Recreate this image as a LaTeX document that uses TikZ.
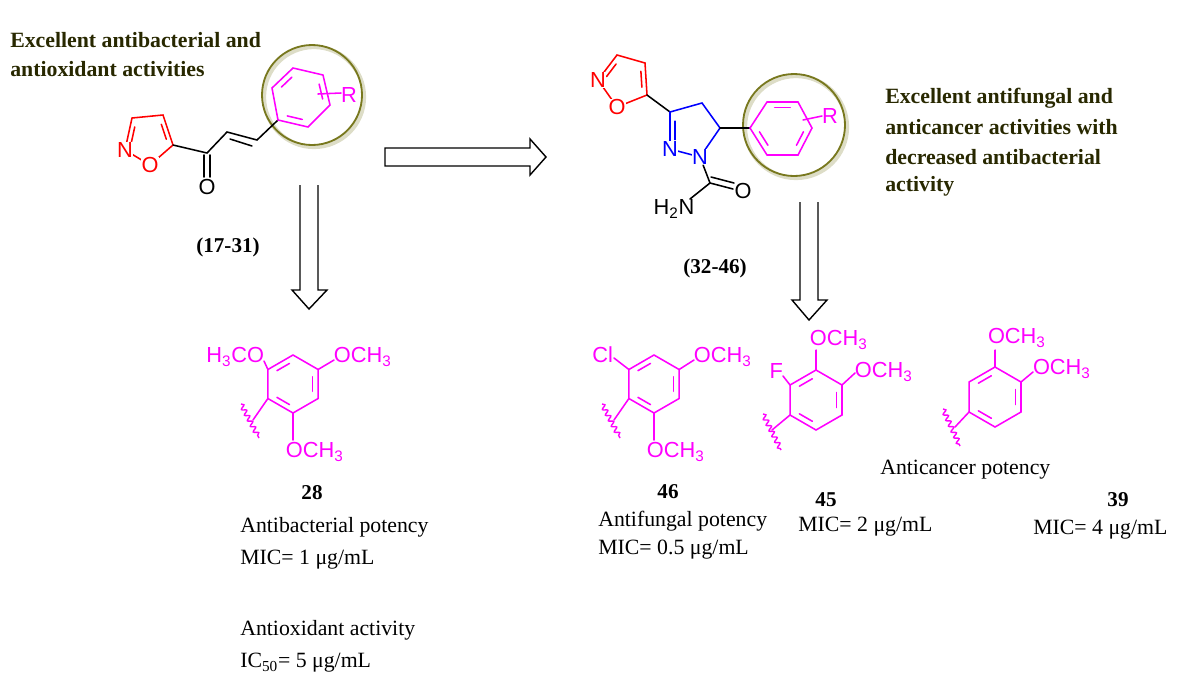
\documentclass[tikz,border=0pt]{standalone}
\usepackage{fontspec}
\setmainfont{Liberation Serif}
\newfontfamily\chemf{Liberation Sans}
\usetikzlibrary{calc,decorations.pathmorphing}
\definecolor{mag}{RGB}{255,0,255}
\definecolor{txt}{RGB}{40,40,0}
\definecolor{olv}{RGB}{120,120,30}
\begin{document}
\begin{tikzpicture}[x=0.025cm,y=-0.025cm,
  bond/.style={line width=1.1pt,line cap=round},
  lab/.style={font=\chemf\fontsize{15.5}{15}\selectfont,inner sep=0.5pt},
  atom/.style={lab,fill=white,inner sep=0.3pt},
  ttl/.style={font=\bfseries\fontsize{15.5}{16}\selectfont,text=txt,inner sep=0,anchor=west},
  bd/.style={font=\fontsize{15.5}{16}\selectfont,text=black,inner sep=0,anchor=west},
  num/.style={font=\bfseries\fontsize{15}{15}\selectfont,text=black,inner sep=0},
  hollow/.style={line width=1pt,black},
  wav/.style={line width=1pt,decorate,decoration={snake,segment length=4.5pt,amplitude=1.6pt}},
  ring/.style={line width=1.3pt,olv}]
\useasboundingbox (0,0) rectangle (1200,679);
\newcommand\hexP[4]{%
  \coordinate (#1c) at (#2,#3);
  \coordinate (#11) at (#2,#3-#4);
  \coordinate (#12) at (#2+0.866*#4,#3-0.5*#4);
  \coordinate (#13) at (#2+0.866*#4,#3+0.5*#4);
  \coordinate (#14) at (#2,#3+#4);
  \coordinate (#15) at (#2-0.866*#4,#3+0.5*#4);
  \coordinate (#16) at (#2-0.866*#4,#3-0.5*#4);
  \draw[bond,mag] (#11)--(#12)--(#13)--(#14)--(#15)--(#16)--cycle;
  \draw[bond,mag] ($(#1c)!0.78!($(#16)!0.18!(#11)$)$)--($(#1c)!0.78!($(#16)!0.82!(#11)$)$);
  \draw[bond,mag] ($(#1c)!0.78!($(#12)!0.18!(#13)$)$)--($(#1c)!0.78!($(#12)!0.82!(#13)$)$);
  \draw[bond,mag] ($(#1c)!0.78!($(#14)!0.18!(#15)$)$)--($(#1c)!0.78!($(#14)!0.82!(#15)$)$);}
\newcommand\inner[4]{\draw[bond,#4] ($(#1)!0.78!($(#2)!0.18!(#3)$)$)--($(#1)!0.78!($(#2)!0.82!(#3)$)$);}

% ---- titles
\node[ttl] (t1) at (10,40) {Excellent antibacterial and};
\node[ttl] (t2) at (10,69) {antioxidant activities};
\node[ttl] (t3) at (885,98) {Excellent antifungal and};
\node[ttl] (t4) at (885,127) {anticancer activities with};
\node[ttl] (t5) at (885,157) {decreased antibacterial};
\node[ttl] (t6) at (885,186) {activity};

% ---- top-left chalcone
\draw[line width=3pt,olv!25] (314,97) circle (50);
\draw[ring] (312,95) circle (50);
\coordinate (a1) at (132,118); \coordinate (a2) at (163,115); \coordinate (a3) at (173,145);
\coordinate (aO) at (150,165); \coordinate (aN) at (125,150); \coordinate (ac) at (149,138);
\draw[bond,red] (a1)--(a2)--(a3)--(aO)--(aN)--cycle;
\inner{ac}{aN}{a1}{red} \inner{ac}{a2}{a3}{red}
\node[atom,text=red] (aNl) at (aN) {N};
\node[atom,text=red] (aOl) at (aO) {O};
\coordinate (k1) at (207,153); \coordinate (k2) at (227,132); \coordinate (k3) at (257,140);
\node[lab] (kO) at (207,187) {O};
\draw[bond] (a3)--(k1)--(k2)--(k3)--(278,120);
\draw[bond] (204,155)--(204,177) (210,155)--(210,177);
\draw[bond] ($(k2)+(3,7)$)--($(k3)+(-5,6)$);
\coordinate (p1) at (278,120); \coordinate (p2) at (272,88); \coordinate (p3) at (293,68);
\coordinate (p4) at (323,75); \coordinate (p5) at (330,105); \coordinate (p6) at (308,127);
\coordinate (pc) at (301,97);
\draw[bond,mag] (p1)--(p2)--(p3)--(p4)--(p5)--(p6)--cycle;
\inner{pc}{p2}{p3}{mag} \inner{pc}{p4}{p5}{mag} \inner{pc}{p6}{p1}{mag}
\node[lab,text=mag] (pR) at (349,95) {R};
\draw[bond,mag] (318,94)--(341,93);
\node[num] (n1) at (228,247) {(17-31)};

% ---- top-right pyrazoline
\draw[line width=3pt,olv!25] (796,127) circle (51);
\draw[ring] (794,125) circle (51);
\coordinate (b1) at (617,55); \coordinate (b2) at (645,63); \coordinate (b3) at (647,95);
\coordinate (bO) at (617,107); \coordinate (bN) at (598,80); \coordinate (bc) at (625,80);
\draw[bond,red] (b1)--(b2)--(b3)--(bO)--(bN)--cycle;
\inner{bc}{bN}{b1}{red} \inner{bc}{b2}{b3}{red}
\node[atom,text=red] (bNl) at (bN) {N};
\node[atom,text=red] (bOl) at (bO) {O};
\coordinate (z3) at (670,112); \coordinate (z4) at (702,103); \coordinate (z5) at (720,128);
\coordinate (z1) at (700,157); \coordinate (z2) at (670,149); \coordinate (zc) at (692,130);
\draw[bond] (b3)--(z3);
\draw[bond,blue] (z3)--(z4)--(z5)--(z1)--(z2)--cycle;
\inner{zc}{z3}{z2}{blue}
\node[atom,text=blue] (zN1) at (z1) {N};
\node[atom,text=blue] (zN2) at (z2) {N};
\coordinate (cC) at (710,183);
\draw[bond] (zN1)--(cC)--(690,199);
\draw[bond] (cC)--(733,189) ($(cC)+(1,-6)$)--($(733,189)+(1,-6)$);
\node[lab] (cO) at (743,191) {O};
\node[lab] (cN) at (674,209) {H\textsubscript{2}N};
\coordinate (q1) at (750,128); \coordinate (q2) at (767,102); \coordinate (q3) at (798,102);
\coordinate (q4) at (812,128); \coordinate (q5) at (798,155); \coordinate (q6) at (767,155);
\coordinate (qc) at (782,128);
\draw[bond] (z5)--(q1);
\draw[bond,mag] (q1)--(q2)--(q3)--(q4)--(q5)--(q6)--cycle;
\inner{qc}{q2}{q3}{mag} \inner{qc}{q4}{q5}{mag} \inner{qc}{q6}{q1}{mag}
\draw[bond,mag] (803,120)--(822,116);
\node[lab,text=mag] (qR) at (830,116) {R};
\node[num] (n2) at (715,268) {(32-46)};

% ---- hollow arrows
\draw[hollow] (385,148)--(530,148)--(530,139)--(546,157)--(530,175)--(530,166)--(385,166)--cycle;
\draw[hollow] (300,185)--(300,290)--(292,290)--(309,309)--(327,290)--(318,290)--(318,185);
\draw[hollow] (800,202)--(800,300)--(792,300)--(809,320)--(827,300)--(818,300)--(818,202);

% ---- compound 28
\hexP{r}{293}{384}{29}
\draw[bond,mag] (r6)--(264,361) (r2)--(334,360) (r4)--(293,440) (r5)--(253,420);
\draw[wav,mag] (241,404)--(259,438);
\node[lab,text=mag,anchor=east] (r28a) at (265,357) {H\textsubscript{3}CO};
\node[lab,text=mag,anchor=west] (r28b) at (333,357) {OCH\textsubscript{3}};
\node[lab,text=mag,anchor=west] (r28c) at (285,452) {OCH\textsubscript{3}};
\node[num] (n28) at (312,493) {28};
\node[bd] (d1) at (240,527) {Antibacterial potency};
\node[bd] (d2) at (240,560) {MIC= 1 μg/mL};
\node[bd] (d3) at (240,630) {Antioxidant activity};
\node[bd] (d4) at (240,663) {IC\textsubscript{50}= 5 μg/mL};

% ---- compound 46
\hexP{s}{654}{384}{29}
\draw[bond,mag] (s6)--(614,358) (s2)--(694,360) (s4)--(654,440) (s5)--(614,420);
\draw[wav,mag] (602,404)--(620,438);
\node[lab,text=mag,anchor=east] (s46a) at (614,355) {Cl};
\node[lab,text=mag,anchor=west] (s46b) at (693,357) {OCH\textsubscript{3}};
\node[lab,text=mag,anchor=west] (s46c) at (646,452) {OCH\textsubscript{3}};
\node[num] (n46) at (668,492) {46};
\node[bd] (e1) at (598,521) {Antifungal potency};
\node[bd] (e2) at (598,550) {MIC= 0.5 μg/mL};

% ---- compound 45
\hexP{u}{816}{400}{30}
\draw[bond,mag] (u1)--(816,350) (u6)--(783,376) (u2)--(855,373) (u5)--(772,430);
\draw[wav,mag] (763,414)--(781,450);
\node[lab,text=mag,anchor=west] (u45a) at (809,340) {OCH\textsubscript{3}};
\node[lab,text=mag,anchor=east] (u45b) at (784,371) {F};
\node[lab,text=mag,anchor=west] (u45c) at (854,372) {OCH\textsubscript{3}};
\node[num] (n45) at (826,500) {45};
\node[bd] (f1) at (798,527) {MIC= 2 μg/mL};

% ---- compound 39
\hexP{v}{995}{397}{30}
\draw[bond,mag] (v1)--(995,350) (v2)--(1033,372) (v5)--(955,427);
\draw[wav,mag] (943,409)--(960,446);
\node[lab,text=mag,anchor=west] (v39a) at (987,338) {OCH\textsubscript{3}};
\node[lab,text=mag,anchor=west] (v39b) at (1032,369) {OCH\textsubscript{3}};
\node[bd] (g0) at (880,470) {Anticancer potency};
\node[num] (n39) at (1118,500) {39};
\node[bd] (g1) at (1033,530) {MIC= 4 μg/mL};
\end{tikzpicture}
\end{document}
